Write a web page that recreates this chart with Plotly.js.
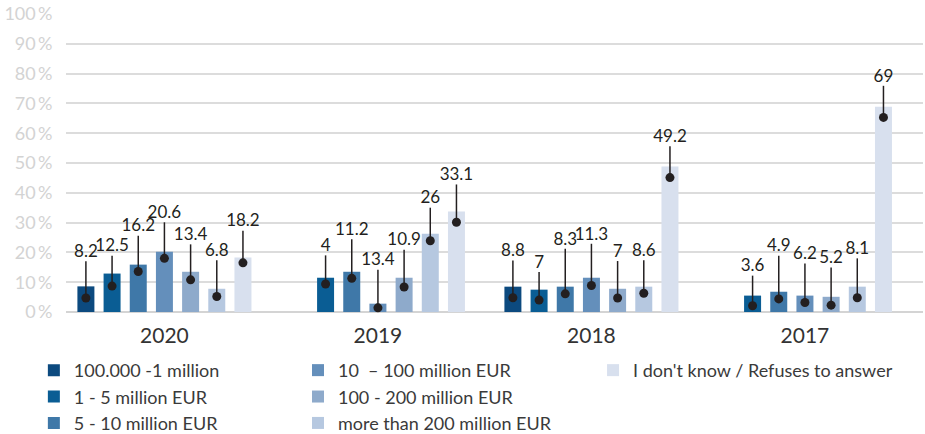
<!DOCTYPE html>
<html>
<head>
<meta charset="utf-8">
<script src="https://cdn.plot.ly/plotly-3.0.1.min.js"></script>
<style>html,body{margin:0;padding:0;background:#fff;}#chart{width:925px;height:434px;}</style>
</head>
<body>
<div id="chart"></div>
<script>
// ---- data ----
var years = ["2020", "2019", "2018", "2017"];
var seriesNames = [
  "100.000 -1 million",
  "1 - 5 million EUR",
  "5 - 10 million EUR",
  "10\u00a0 \u2013 100 million EUR",
  "100 - 200 million EUR",
  "more than 200 million EUR",
  "I don't know / Refuses to answer"
];
// bar heights (%) per series, by year
var bars1 = [8.6, null, 8.5, null];
var bars2 = [12.9, 11.5, 7.5, 5.5];
var bars3 = [15.9, 13.5, 8.5, 6.8];
var bars4 = [20.2, 2.8, 11.5, 5.5];
var bars5 = [13.5, 11.5, 7.8, 5.1];
var bars6 = [7.8, 26.3, 8.5, 8.5];
var bars7 = [18.3, 33.7, 48.8, 68.9];
// marker dot values (%)
var dots1 = [4.7, null, 4.8, null];
var dots2 = [8.7, 9.4, 4.0, 2.1];
var dots3 = [13.6, 11.3, 6.1, 4.4];
var dots4 = [18.0, 1.4, 8.9, 3.2];
var dots5 = [10.8, 8.4, 4.7, 2.3];
var dots6 = [5.2, 23.9, 6.3, 4.8];
var dots7 = [16.5, 30.1, 45.1, 65.3];
// leader line end / label anchor values (%)
var tops1 = [17.0, null, 17.3, null];
var tops2 = [18.9, 19.0, 13.4, 12.2];
var tops3 = [25.6, 24.4, 21.2, 18.9];
var tops4 = [30.1, 14.2, 22.9, 16.3];
var tops5 = [22.7, 20.9, 17.1, 14.9];
var tops6 = [17.4, 35.0, 17.4, 18.0];
var tops7 = [27.3, 42.8, 55.6, 75.9];
// data label texts
var labels1 = ["8.2", null, "8.8", null];
var labels2 = ["12.5", "4", "7", "3.6"];
var labels3 = ["16.2", "11.2", "8.3", "4.9"];
var labels4 = ["20.6", "13.4", "11.3", "6.2"];
var labels5 = ["13.4", "10.9", "7", "5.2"];
var labels6 = ["6.8", "26", "8.6", "8.1"];
var labels7 = ["18.2", "33.1", "49.2", "69"];
var yTickVals = [0, 10, 20, 30, 40, 50, 60, 70, 80, 90, 100];

// ---- styling ----
var colors = ["#0c4a7f", "#0a5d94", "#3f78a8", "#648fbb", "#8eaacb", "#b6c8e0", "#d8e0ee"];
var legendOf = ["legend", "legend", "legend", "legend2", "legend2", "legend2", "legend3"];
var FONT = "Lato, 'Open Sans', sans-serif";
var INK = "#231f20";
var slot = 0.1226, barW = 0.0796;

var barsAll = [bars1, bars2, bars3, bars4, bars5, bars6, bars7];
var dotsAll = [dots1, dots2, dots3, dots4, dots5, dots6, dots7];
var topsAll = [tops1, tops2, tops3, tops4, tops5, tops6, tops7];
var labelsAll = [labels1, labels2, labels3, labels4, labels5, labels6, labels7];
var catIdx = years.map(function (y, i) { return i; });

var traces = [];
barsAll.forEach(function (vals, s) {
  traces.push({
    type: "bar", name: seriesNames[s], x: catIdx, y: vals,
    width: barW, offset: (s - 3) * slot - barW / 2,
    marker: { color: colors[s], line: { width: 0 } },
    legend: legendOf[s], hoverinfo: "skip"
  });
});

var lx = [], ly = [], dx = [], dy = [], tx = [], ty = [], tt = [];
for (var s = 0; s < 7; s++) {
  for (var c = 0; c < years.length; c++) {
    if (dotsAll[s][c] === null) continue;
    var px = c + (s - 3) * slot;
    lx.push(px, px, null);
    ly.push(dotsAll[s][c], topsAll[s][c], null);
    dx.push(px); dy.push(dotsAll[s][c]);
    tx.push(px); ty.push(topsAll[s][c]); tt.push(labelsAll[s][c]);
  }
}
traces.push({ type: "scatter", mode: "lines", x: lx, y: ly, line: { color: INK, width: 1.5 },
  showlegend: false, hoverinfo: "skip", cliponaxis: false });
traces.push({ type: "scatter", mode: "markers", x: dx, y: dy, marker: { color: INK, size: 9 },
  showlegend: false, hoverinfo: "skip", cliponaxis: false });
traces.push({ type: "scatter", mode: "text", x: tx, y: ty, text: tt, textposition: "top center",
  textfont: { family: FONT, size: 17, color: INK }, showlegend: false, hoverinfo: "skip", cliponaxis: false });

var legendCommon = {
  orientation: "v", yanchor: "top", xanchor: "left", bgcolor: "rgba(0,0,0,0)",
  font: { family: FONT, size: 18, color: "#3a3a3a" }, tracegroupgap: 0, traceorder: "normal"
};
function leg(x) { var o = JSON.parse(JSON.stringify(legendCommon)); o.x = x; o.y = -0.134; return o; }

var layout = {
  width: 925, height: 434,
  margin: { l: 66, r: 2, t: 14, b: 122, autoexpand: false },
  paper_bgcolor: "#fff", plot_bgcolor: "#fff",
  barmode: "overlay",
  showlegend: true,
  font: { family: FONT },
  xaxis: {
    range: [-0.461, 3.553], tickvals: catIdx, ticktext: years,
    showgrid: false, zeroline: false, showline: false,
    ticks: "outside", ticklen: 5, tickcolor: "rgba(0,0,0,0)",
    tickfont: { family: FONT, size: 21, color: "#333" }, fixedrange: true
  },
  yaxis: {
    range: [0, 100], tickvals: yTickVals, ticktext: yTickVals.map(function (v) { return v + "\u2009%"; }),
    showgrid: true, gridcolor: "#dcdcdc", gridwidth: 2,
    zeroline: true, zerolinecolor: "#d4d4d4", zerolinewidth: 2,
    ticks: "outside", ticklen: 9, tickcolor: "rgba(0,0,0,0)",
    tickfont: { family: FONT, size: 18, color: "#d3d3d3" }, fixedrange: true
  },
  legend: leg(-0.0375),
  legend2: leg(0.2707),
  legend3: leg(0.615)
};

Plotly.newPlot("chart", traces, layout, { displayModeBar: false, staticPlot: true });
</script>
</body>
</html>
